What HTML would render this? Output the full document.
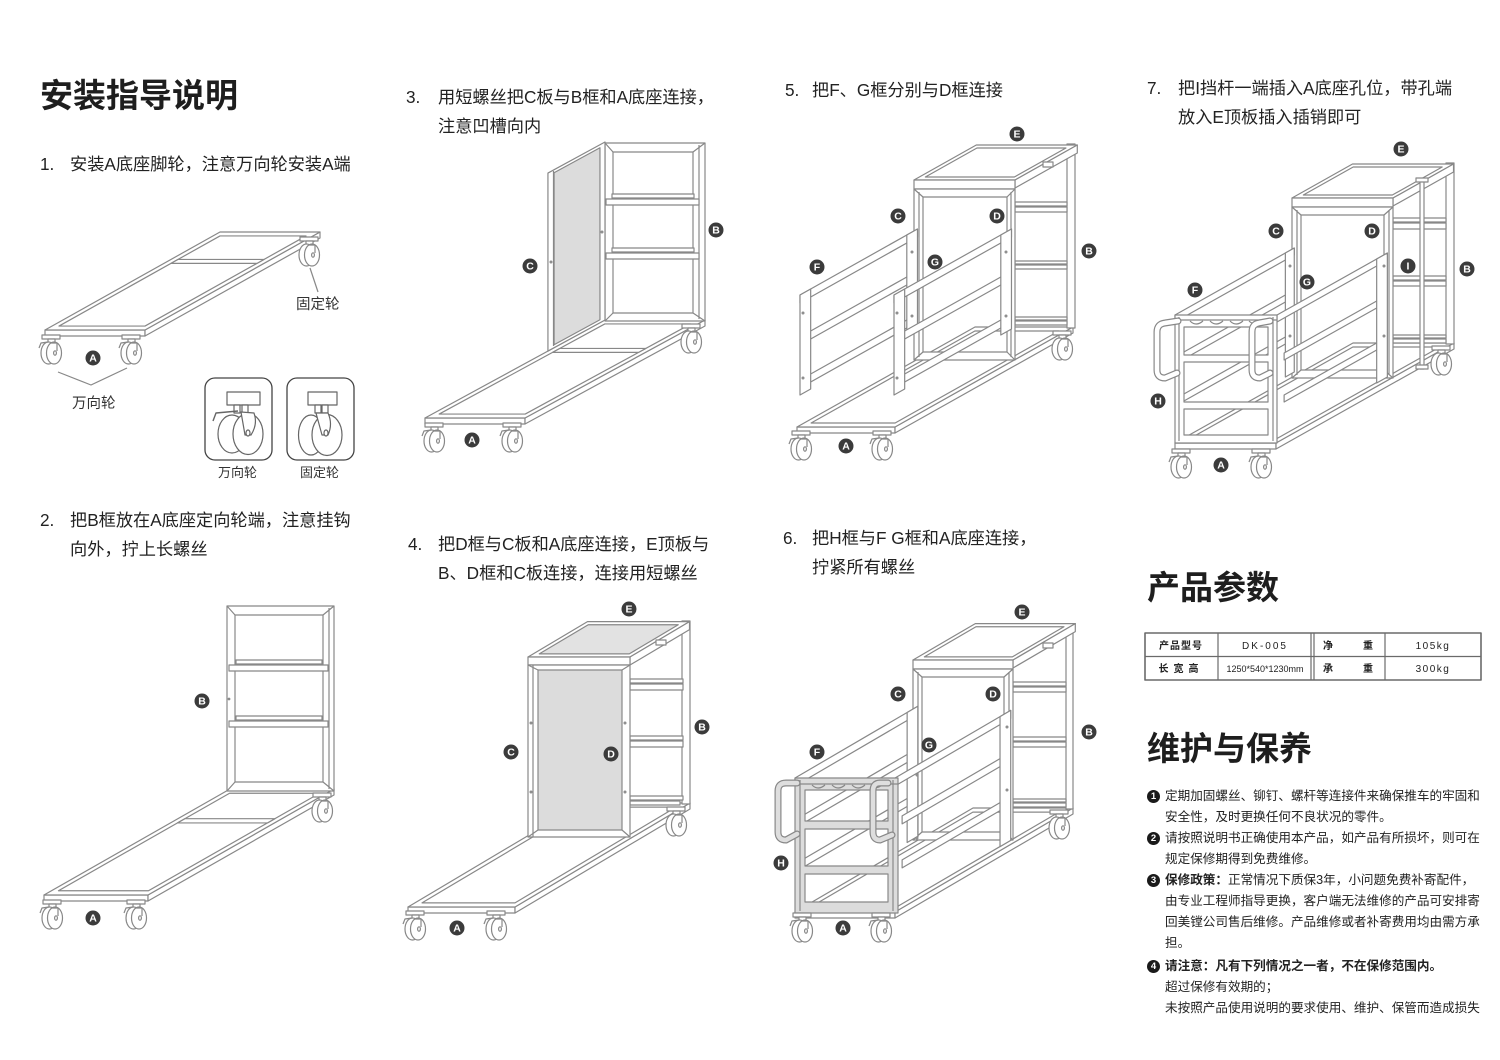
<!DOCTYPE html>
<html><head><meta charset="utf-8">
<style>
html,body{margin:0;padding:0;background:#fff;}
body{width:1500px;height:1060px;position:relative;overflow:hidden;font-family:"Liberation Sans","Noto Sans CJK SC",sans-serif;color:#222;}
.t{position:absolute;white-space:nowrap;}
.h{font-size:33px;font-weight:bold;line-height:40px;color:#1e1e1e;}
.st{font-size:17.2px;line-height:29px;color:#222;}
.m{font-size:12.6px;line-height:20px;color:#222;}
.n{position:absolute;left:1147px;width:13px;height:13px;border-radius:50%;background:#1a1a1a;color:#fff;font:bold 9.5px/13px "Liberation Sans",sans-serif;text-align:center;}
.cap{font-size:14.5px;line-height:20px;color:#333;}
.cap2{font-size:13px;line-height:18px;color:#333;}
svg *{vector-effect:non-scaling-stroke;}
.lb circle{fill:#3b3b3b;stroke:none;}
.lb text{fill:#fff;stroke:none;font:bold 10.5px "Liberation Sans",sans-serif;text-anchor:middle;}
.tb text{fill:#222;stroke:none;font-family:"Liberation Sans","Noto Sans CJK SC",sans-serif;text-anchor:middle;}
.gf{fill:#dcdcdc;}
.nf{fill:none;}
</style></head><body>

<svg width="1500" height="1060" style="position:absolute;left:0;top:0" fill="#fff" stroke="#888" stroke-width="1.2" stroke-linejoin="round">
<defs>
 <g id="wh">
  <rect x="-10" y="-18" width="18" height="4"/>
  <rect x="-4" y="-14" width="7" height="4"/>
  <ellipse cx="-3.5" cy="0" rx="7.5" ry="11"/>
  <ellipse cx="2" cy="0" rx="7.5" ry="11"/>
  <path d="M-1 -10 L5 -10 L5 -2" fill="none"/>
  <ellipse cx="3" cy="0" rx="1.4" ry="2.2"/>
 </g>
 <g id="whb"><use href="#wh"/><path d="M-13 -5 L-11 -10 L-4 -11" fill="none"/></g>
</defs>

<!-- ============ FIG 1 ============ -->
<rect x="45" y="330" width="100" height="6"/>
<g transform="matrix(1.75,-0.98,0,1,145,330)"><rect x="0" y="0" width="100" height="6"/></g>
<g transform="matrix(1,0,1.75,-0.98,45,330)">
 <path fill-rule="evenodd" d="M0 0H100V100H0Z M7 4H93V96H7Z"/>
 <rect x="7" y="68" width="86" height="4"/>
</g>
<use href="#whb" x="52" y="353"/>
<use href="#whb" x="132" y="353"/>
<use href="#wh" x="310" y="255"/>
<path class="nf" d="M310 268 L318 292"/>
<path class="nf" d="M58 372 L91 385 L127 368"/>
<g class="lb" transform="translate(93,358)"><circle r="7.5"/><text y="3.7">A</text></g>

<!-- icon boxes -->
<rect x="205" y="378" width="67" height="82" rx="10" stroke="#444" stroke-width="1.3"/>
<rect x="227" y="392" width="33" height="13" stroke="#666"/>
<rect x="234" y="405" width="6" height="8" stroke="#666"/>
<rect x="242" y="405" width="6" height="8" stroke="#666"/>
<ellipse cx="232" cy="434" rx="14" ry="19" stroke="#666"/>
<ellipse cx="248" cy="434" rx="15" ry="20.5" stroke="#666"/>
<path d="M241 412 L254 413 Q258 424 251 435 L245 435 Z" stroke="#666"/>
<ellipse cx="248" cy="433" rx="2" ry="3" stroke="#666"/>
<path class="nf" d="M213 421 L216 413 L238 411" stroke="#666" stroke-width="1.4"/>
<rect x="287" y="378" width="67" height="82" rx="10" stroke="#444" stroke-width="1.3"/>
<rect x="308" y="392" width="29" height="13" stroke="#666"/>
<rect x="315" y="405" width="6" height="8" stroke="#666"/>
<rect x="322" y="405" width="6" height="8" stroke="#666"/>
<ellipse cx="311" cy="435" rx="12.5" ry="20" stroke="#666"/>
<ellipse cx="327" cy="435" rx="15" ry="20.5" stroke="#666"/>
<path d="M316 413 L328 413 Q333 424 328 435 L322 435 Z" stroke="#666"/>
<ellipse cx="326" cy="433" rx="2" ry="3" stroke="#666"/>

<!-- ============ FIG 2 ============ -->
<rect x="44" y="895" width="104" height="6"/>
<g transform="matrix(1.86,-1.06,0,1,148,895)"><rect x="0" y="0" width="100" height="6"/></g>
<g transform="matrix(1,0,1.86,-1.06,44,895)">
 <path fill-rule="evenodd" d="M0 0H104V100H0Z M7 4H97V96H7Z"/>
 <rect x="7" y="68" width="90" height="4"/>
</g>
<rect x="227" y="606" width="107" height="185"/>
<rect x="235" y="615" width="88" height="167"/>
<line x1="329" y1="608" x2="329" y2="789"/>
<path class="nf" d="M227 606 L235 615 M334 606 L323 615 M227 791 L235 782 M334 791 L323 782"/>
<rect x="236" y="660" width="86" height="4"/><rect x="229" y="665" width="99" height="6"/>
<rect x="236" y="716" width="86" height="4"/><rect x="229" y="721" width="99" height="6"/>
<circle cx="229" cy="699" r="0.8"/>
<use href="#whb" x="53" y="918"/>
<use href="#whb" x="137" y="918"/>
<use href="#wh" x="323" y="811"/>
<g class="lb" transform="translate(202,701)"><circle r="7.5"/><text y="3.7">B</text></g>
<g class="lb" transform="translate(93,918)"><circle r="7.5"/><text y="3.7">A</text></g>

<!-- ============ FIG 3 ============ -->
<rect x="425" y="418" width="100" height="6"/>
<g transform="matrix(1.8,-0.98,0,1,525,418)"><rect x="0" y="0" width="100" height="6"/></g>
<g transform="matrix(1,0,1.8,-0.98,425,418)">
 <path fill-rule="evenodd" d="M0 0H100V100H0Z M7 4H93V96H7Z"/>
 <rect x="7" y="67" width="86" height="4"/>
</g>
<rect x="605" y="143" width="100" height="178"/>
<rect x="613" y="152" width="80" height="161"/>
<line x1="699" y1="145" x2="699" y2="319"/>
<path class="nf" d="M605 143 L613 152 M705 143 L693 152 M605 321 L613 313 M705 321 L693 313"/>
<rect x="612" y="194" width="82" height="4"/><rect x="606" y="199" width="93" height="6"/>
<rect x="612" y="248" width="82" height="4"/><rect x="606" y="253" width="93" height="6"/>
<g transform="matrix(1.8,-0.98,0,1,605,320)">
 <rect x="-31.7" y="-178" width="31.7" height="178"/>
 <rect x="-28.3" y="-175" width="25.5" height="172" class="gf"/>
</g>
<line x1="553.5" y1="171" x2="553.5" y2="346"/>
<circle cx="551" cy="262" r="0.9"/><circle cx="602" cy="232" r="0.9"/>
<use href="#whb" x="435" y="441"/>
<use href="#whb" x="513" y="441"/>
<use href="#wh" x="692" y="342"/>
<g class="lb" transform="translate(530,266)"><circle r="7.5"/><text y="3.7">C</text></g>
<g class="lb" transform="translate(716,230)"><circle r="7.5"/><text y="3.7">B</text></g>
<g class="lb" transform="translate(472,440)"><circle r="7.5"/><text y="3.7">A</text></g>

<!-- ============ FIG 4 ============ -->
<rect x="408" y="907" width="107" height="6"/>
<g transform="matrix(1.75,-1.04,0,1,515,907)"><rect x="0" y="0" width="100" height="6"/></g>
<g transform="matrix(1,0,1.75,-1.04,408,907)">
 <path fill-rule="evenodd" d="M0 0H107V100H0Z M7 4H100V96H7Z"/>
</g>
<rect x="682" y="621" width="8" height="183"/>
<rect x="630" y="679" width="53" height="4"/><rect x="630" y="684" width="53" height="6"/>
<rect x="630" y="736" width="53" height="4"/><rect x="630" y="741" width="53" height="6"/>
<rect x="630" y="796" width="53" height="4"/><rect x="630" y="801" width="50" height="4"/>
<g transform="matrix(1,0,1.75,-1.04,528,657)">
 <rect x="0" y="0" width="102" height="34"/>
 <rect x="6" y="3" width="90" height="28" fill="#e2e2e2"/>
</g>
<g transform="matrix(1.75,-1.04,0,1,630,657)"><rect x="0" y="0" width="34" height="8"/></g>
<rect x="528" y="657" width="102" height="8"/>
<rect x="528" y="665" width="102" height="172"/>
<rect x="538" y="670" width="84" height="160" class="gf"/>
<line x1="533" y1="665" x2="533" y2="837"/>
<path class="nf" d="M528 665 L538 670 M630 665 L622 670 M528 837 L538 830 M630 837 L622 830"/>
<rect x="656" y="640" width="10" height="5"/>
<circle cx="531" cy="723" r="0.9"/><circle cx="531" cy="792" r="0.9"/><circle cx="625" cy="723" r="0.9"/><circle cx="625" cy="792" r="0.9"/>
<use href="#whb" x="416" y="929"/>
<use href="#whb" x="497" y="929"/>
<use href="#wh" x="677" y="825"/>
<g class="lb" transform="translate(629,609)"><circle r="7.5"/><text y="3.7">E</text></g>
<g class="lb" transform="translate(511,752)"><circle r="7.5"/><text y="3.7">C</text></g>
<g class="lb" transform="translate(611,754)"><circle r="7.5"/><text y="3.7">D</text></g>
<g class="lb" transform="translate(702,727)"><circle r="7.5"/><text y="3.7">B</text></g>
<g class="lb" transform="translate(457,928)"><circle r="7.5"/><text y="3.7">A</text></g>

<!-- ============ FIG 5 ============ -->
<rect x="797" y="427" width="98" height="6"/>
<g transform="matrix(1.78,-1,0,1,895,427)"><rect x="0" y="0" width="100" height="6"/></g>
<g transform="matrix(1,0,1.78,-1,797,427)">
 <path fill-rule="evenodd" d="M0 0H98V100H0Z M7 4H91V96H7Z"/>
</g>
<rect x="1067" y="144" width="8" height="184"/>
<rect x="1015" y="202" width="52" height="4"/><rect x="1015" y="207" width="52" height="5"/>
<rect x="1015" y="261" width="52" height="3"/><rect x="1015" y="265" width="52" height="4"/>
<rect x="1015" y="317" width="52" height="3"/><rect x="1015" y="321" width="52" height="4"/>
<g transform="matrix(1,0,1.78,-1,914,180)">
 <rect x="0" y="0" width="101" height="35"/>
 <rect x="6" y="3" width="89" height="29"/>
</g>
<g transform="matrix(1.78,-1,0,1,1015,180)"><rect x="0" y="0" width="35" height="8"/></g>
<rect x="914" y="180" width="101" height="9"/>
<path fill-rule="evenodd" d="M914 189H1015V360H914Z M923 197H1007V352H923Z"/>
<path class="nf" d="M914 189 L923 197 M1015 189 L1007 197 M914 360 L923 352 M1015 360 L1007 352 M919 192 V357 M1011 192 V357"/>
<rect x="1043" y="162" width="10" height="5"/>
<g transform="matrix(1.78,-1,0,1,800,395)">
 <rect x="0" y="-100" width="66" height="8"/>
 <rect x="5" y="-58" width="57" height="8"/>
 <rect x="5" y="-15" width="57" height="8"/>
 <rect x="0" y="-100" width="6" height="100"/>
 <rect x="60" y="-100" width="6" height="100"/>
</g>
<g transform="matrix(1.78,-1,0,1,894,395)">
 <rect x="0" y="-100" width="66" height="8"/>
 <rect x="5" y="-58" width="57" height="8"/>
 <rect x="5" y="-15" width="57" height="8"/>
 <rect x="0" y="-100" width="6" height="100"/>
 <rect x="60" y="-100" width="6" height="100"/>
</g>
<circle cx="803" cy="313" r="0.9"/><circle cx="803" cy="378" r="0.9"/><circle cx="912" cy="252" r="0.9"/><circle cx="912" cy="316" r="0.9"/>
<circle cx="897" cy="313" r="0.9"/><circle cx="897" cy="378" r="0.9"/><circle cx="1006" cy="252" r="0.9"/><circle cx="1006" cy="316" r="0.9"/>
<use href="#whb" x="802" y="449"/>
<use href="#whb" x="883" y="449"/>
<use href="#wh" x="1063" y="349"/>
<g class="lb" transform="translate(1017,134)"><circle r="7.5"/><text y="3.7">E</text></g>
<g class="lb" transform="translate(898,216)"><circle r="7.5"/><text y="3.7">C</text></g>
<g class="lb" transform="translate(997,216)"><circle r="7.5"/><text y="3.7">D</text></g>
<g class="lb" transform="translate(817,267)"><circle r="7.5"/><text y="3.7">F</text></g>
<g class="lb" transform="translate(935,262)"><circle r="7.5"/><text y="3.7">G</text></g>
<g class="lb" transform="translate(1089,251)"><circle r="7.5"/><text y="3.7">B</text></g>
<g class="lb" transform="translate(846,446)"><circle r="7.5"/><text y="3.7">A</text></g>

<!-- ============ FIG 6 ============ -->
<rect x="795" y="912" width="100" height="6"/>
<g transform="matrix(1.78,-1.04,0,1,895,912)"><rect x="0" y="0" width="100" height="6"/></g>
<g transform="matrix(1,0,1.78,-1.04,795,912)">
 <path fill-rule="evenodd" d="M0 0H100V100H0Z M7 4H93V96H7Z"/>
</g>
<rect x="1066" y="624" width="7" height="185"/>
<rect x="1013" y="682" width="53" height="4"/><rect x="1013" y="687" width="53" height="5"/>
<rect x="1013" y="737" width="53" height="4"/><rect x="1013" y="742" width="53" height="5"/>
<rect x="1013" y="799" width="53" height="3"/><rect x="1013" y="803" width="53" height="4"/>
<g transform="matrix(1,0,1.78,-1.04,913,660)">
 <rect x="0" y="0" width="100" height="35"/>
 <rect x="6" y="3" width="88" height="29"/>
</g>
<g transform="matrix(1.78,-1.04,0,1,1013,660)"><rect x="0" y="0" width="35" height="8"/></g>
<rect x="913" y="660" width="100" height="9"/>
<path fill-rule="evenodd" d="M913 669H1013V840H913Z M922 677H1004V832H922Z"/>
<path class="nf" d="M913 669 L922 677 M1013 669 L1004 677 M913 840 L922 832 M1013 840 L1004 832 M918 672 V837 M1009 672 V837"/>
<rect x="1043" y="643" width="10" height="5"/>
<g transform="matrix(1.78,-1.04,0,1,795,912)">
 <rect x="0" y="-134" width="69" height="8"/>
 <rect x="4" y="-92" width="62" height="8"/>
 <rect x="4" y="-48" width="62" height="8"/>
 <rect x="63" y="-134" width="6" height="130"/>
</g>
<g transform="matrix(1.78,-1.04,0,1,895,912)">
 <rect x="0" y="-134" width="65" height="8"/>
 <rect x="4" y="-92" width="58" height="8"/>
 <rect x="4" y="-48" width="58" height="8"/>
 <rect x="59" y="-134" width="6" height="130"/>
</g>
<circle cx="917" cy="775" r="0.9"/><circle cx="917" cy="838" r="0.9"/><circle cx="1007" cy="727" r="0.9"/><circle cx="1007" cy="790" r="0.9"/>
<path class="gf" fill-rule="evenodd" d="M795 778H898V913H795Z M805 790H888V821H805Z M805 829H888V866H805Z M805 874H888V902H805Z"/>
<path class="nf" d="M800 780 V911 M893 780 V911 M795 784 H898 M812 785 q6 6 13 0 M832 785 q6 6 13 0 M852 785 q6 6 13 0 M871 785 q5 5 11 0"/>
<path class="nf" d="M797 783 L786 783 Q778 783 778 791 L778 832 Q778 840 786 840 L797 834" stroke="#888" stroke-width="7" stroke-linecap="round"/>
<path class="nf" d="M797 783 L786 783 Q778 783 778 791 L778 832 Q778 840 786 840 L797 834" stroke="#dedede" stroke-width="4.6" stroke-linecap="round"/>
<path class="nf" d="M888 783 L880 783 Q873 783 873 791 L873 832 Q873 840 880 840 L892 835" stroke="#888" stroke-width="7" stroke-linecap="round"/>
<path class="nf" d="M888 783 L880 783 Q873 783 873 791 L873 832 Q873 840 880 840 L892 835" stroke="#dedede" stroke-width="4.6" stroke-linecap="round"/>
<use href="#whb" x="803" y="931"/>
<use href="#whb" x="882" y="931"/>
<use href="#wh" x="1060" y="828"/>
<g class="lb" transform="translate(1022,612)"><circle r="7.5"/><text y="3.7">E</text></g>
<g class="lb" transform="translate(898,694)"><circle r="7.5"/><text y="3.7">C</text></g>
<g class="lb" transform="translate(993,694)"><circle r="7.5"/><text y="3.7">D</text></g>
<g class="lb" transform="translate(1089,732)"><circle r="7.5"/><text y="3.7">B</text></g>
<g class="lb" transform="translate(817,752)"><circle r="7.5"/><text y="3.7">F</text></g>
<g class="lb" transform="translate(929,745)"><circle r="7.5"/><text y="3.7">G</text></g>
<g class="lb" transform="translate(781,863)"><circle r="7.5"/><text y="3.7">H</text></g>
<g class="lb" transform="translate(843,928)"><circle r="7.5"/><text y="3.7">A</text></g>

<!-- ============ FIG 7 ============ -->
<rect x="1175" y="443" width="101" height="6"/>
<g transform="matrix(1.78,-1,0,1,1276,443)"><rect x="0" y="0" width="100" height="6"/></g>
<g transform="matrix(1,0,1.78,-1,1175,443)">
 <path fill-rule="evenodd" d="M0 0H101V100H0Z M7 4H94V96H7Z"/>
</g>
<rect x="1446" y="163" width="8" height="181"/>
<rect x="1393" y="218" width="53" height="4"/><rect x="1393" y="223" width="53" height="6"/>
<rect x="1393" y="276" width="53" height="4"/><rect x="1393" y="281" width="53" height="5"/>
<rect x="1393" y="335" width="53" height="3"/><rect x="1393" y="339" width="53" height="4"/>
<g transform="matrix(1,0,1.78,-1,1292,198)">
 <rect x="0" y="0" width="101" height="34"/>
 <rect x="6" y="3" width="89" height="28"/>
</g>
<g transform="matrix(1.78,-1,0,1,1393,198)"><rect x="0" y="0" width="34" height="8"/></g>
<rect x="1292" y="198" width="101" height="9"/>
<path fill-rule="evenodd" d="M1292 207H1393V378H1292Z M1301 215H1384V370H1301Z"/>
<path class="nf" d="M1292 207 L1301 215 M1393 207 L1384 215 M1292 378 L1301 370 M1393 378 L1384 370 M1297 210 V375 M1389 210 V375"/>
<rect x="1420" y="181" width="4" height="188"/>
<rect x="1416" y="178" width="12" height="4"/><rect x="1416" y="365" width="12" height="4"/>
<g transform="matrix(1.78,-1,0,1,1175,443)">
 <rect x="0" y="-128" width="67" height="7"/>
 <rect x="4" y="-86" width="60" height="7"/>
 <rect x="4" y="-44" width="60" height="7"/>
 <rect x="62" y="-128" width="5" height="124"/>
</g>
<g transform="matrix(1.78,-1,0,1,1277,443)">
 <rect x="0" y="-128" width="62" height="7"/>
 <rect x="4" y="-86" width="55" height="7"/>
 <rect x="4" y="-44" width="55" height="7"/>
 <rect x="56" y="-128" width="6" height="124"/>
</g>
<circle cx="1290" cy="266" r="0.9"/><circle cx="1290" cy="336" r="0.9"/><circle cx="1384" cy="266" r="0.9"/><circle cx="1384" cy="336" r="0.9"/>
<path fill-rule="evenodd" d="M1175 315H1277V443H1175Z M1184 327H1268V355H1184Z M1184 362H1268V402H1184Z M1184 409H1268V435H1184Z"/>
<path class="nf" d="M1179 317 V441 M1273 317 V441 M1175 320 H1277 M1190 321 q6 6 13 0 M1210 321 q6 6 13 0 M1230 321 q6 6 13 0 M1249 321 q5 5 11 0"/>
<path class="nf" d="M1178 321 L1165 323 Q1157 324 1157 332 L1157 370 Q1157 378 1165 378 L1177 373" stroke="#888" stroke-width="7" stroke-linecap="round"/>
<path class="nf" d="M1178 321 L1165 323 Q1157 324 1157 332 L1157 370 Q1157 378 1165 378 L1177 373" stroke="#fff" stroke-width="4.6" stroke-linecap="round"/>
<path class="nf" d="M1270 321 L1259 323 Q1252 324 1252 332 L1252 370 Q1252 378 1260 378 L1270 373" stroke="#888" stroke-width="7" stroke-linecap="round"/>
<path class="nf" d="M1270 321 L1259 323 Q1252 324 1252 332 L1252 370 Q1252 378 1260 378 L1270 373" stroke="#fff" stroke-width="4.6" stroke-linecap="round"/>
<use href="#whb" x="1182" y="467"/>
<use href="#whb" x="1262" y="467"/>
<use href="#wh" x="1442" y="364"/>
<g class="lb" transform="translate(1401,149)"><circle r="7.5"/><text y="3.7">E</text></g>
<g class="lb" transform="translate(1276,231)"><circle r="7.5"/><text y="3.7">C</text></g>
<g class="lb" transform="translate(1372,231)"><circle r="7.5"/><text y="3.7">D</text></g>
<g class="lb" transform="translate(1408,266)"><circle r="7.5"/><text y="3.7">I</text></g>
<g class="lb" transform="translate(1467,269)"><circle r="7.5"/><text y="3.7">B</text></g>
<g class="lb" transform="translate(1195,290)"><circle r="7.5"/><text y="3.7">F</text></g>
<g class="lb" transform="translate(1307,282)"><circle r="7.5"/><text y="3.7">G</text></g>
<g class="lb" transform="translate(1158,401)"><circle r="7.5"/><text y="3.7">H</text></g>
<g class="lb" transform="translate(1221,465)"><circle r="7.5"/><text y="3.7">A</text></g>

<!-- ============ TABLE ============ -->
<g class="tb">
 <rect x="1145" y="633" width="336" height="47" fill="#fff" stroke="#6a6a6a" stroke-width="1.6"/>
 <line x1="1145" y1="656.5" x2="1481" y2="656.5" stroke="#6a6a6a" stroke-width="1.2"/>
 <line x1="1218" y1="633" x2="1218" y2="680" stroke="#6a6a6a" stroke-width="1.2"/>
 <line x1="1311" y1="633" x2="1311" y2="680" stroke="#6a6a6a" stroke-width="1.2"/>
 <line x1="1314" y1="633" x2="1314" y2="680" stroke="#6a6a6a" stroke-width="1.2"/>
 <line x1="1385" y1="633" x2="1385" y2="680" stroke="#6a6a6a" stroke-width="1.2"/>
 <text x="1181" y="649" font-size="10" font-weight="bold" letter-spacing="1">产品型号</text>
 <text x="1265" y="649" font-size="10" letter-spacing="2">DK-005</text>
 <text x="1328" y="649" font-size="10" font-weight="bold">净</text>
 <text x="1368" y="649" font-size="10" font-weight="bold">重</text>
 <text x="1433" y="649" font-size="10" letter-spacing="1.5">105kg</text>
 <text x="1181" y="672" font-size="10" font-weight="bold" letter-spacing="5">长宽高</text>
 <text x="1265" y="672" font-size="9">1250*540*1230mm</text>
 <text x="1328" y="672" font-size="10" font-weight="bold">承</text>
 <text x="1368" y="672" font-size="10" font-weight="bold">重</text>
 <text x="1433" y="672" font-size="10" letter-spacing="1.5">300kg</text>
</g>
</svg>

<!-- ============ TEXT ============ -->
<div class="t h" style="left:40px;top:76px;">安装指导说明</div>

<div class="t st" style="left:40px;top:149.5px;">1.</div>
<div class="t st" style="left:70px;top:149.5px;">安装A底座脚轮，注意万向轮安装A端</div>

<div class="t st" style="left:406px;top:82.5px;">3.</div>
<div class="t st" style="left:438px;top:82.5px;">用短螺丝把C板与B框和A底座连接，<br>注意凹槽向内</div>

<div class="t st" style="left:785px;top:75.5px;">5.</div>
<div class="t st" style="left:812px;top:75.5px;">把F、G框分别与D框连接</div>

<div class="t st" style="left:1147px;top:73.5px;">7.</div>
<div class="t st" style="left:1178px;top:73.5px;">把I挡杆一端插入A底座孔位，带孔端<br>放入E顶板插入插销即可</div>

<div class="t st" style="left:40px;top:505.5px;">2.</div>
<div class="t st" style="left:70px;top:505.5px;">把B框放在A底座定向轮端，注意挂钩<br>向外，拧上长螺丝</div>

<div class="t st" style="left:408px;top:529.5px;">4.</div>
<div class="t st" style="left:438px;top:529.5px;">把D框与C板和A底座连接，E顶板与<br>B、D框和C板连接，连接用短螺丝</div>

<div class="t st" style="left:783px;top:523.5px;">6.</div>
<div class="t st" style="left:812px;top:523.5px;">把H框与F G框和A底座连接，<br>拧紧所有螺丝</div>

<div class="t cap" style="left:296px;top:295px;">固定轮</div>
<div class="t cap" style="left:72px;top:394px;">万向轮</div>
<div class="t cap2" style="left:218px;top:464px;">万向轮</div>
<div class="t cap2" style="left:300px;top:464px;">固定轮</div>

<div class="t h" style="left:1147px;top:568px;">产品参数</div>
<div class="t h" style="left:1147px;top:729px;">维护与保养</div>

<div class="n" style="top:789.5px;">1</div>
<div class="t m" style="left:1165px;top:786px;">定期加固螺丝、铆钉、螺杆等连接件来确保推车的牢固和</div>
<div class="t m" style="left:1165px;top:807px;">安全性，及时更换任何不良状况的零件。</div>
<div class="n" style="top:831.5px;">2</div>
<div class="t m" style="left:1165px;top:828px;">请按照说明书正确使用本产品，如产品有所损坏，则可在</div>
<div class="t m" style="left:1165px;top:849px;">规定保修期得到免费维修。</div>
<div class="n" style="top:873.5px;">3</div>
<div class="t m" style="left:1165px;top:870px;"><b>保修政策：</b>正常情况下质保3年，小问题免费补寄配件，</div>
<div class="t m" style="left:1165px;top:891px;">由专业工程师指导更换，客户端无法维修的产品可安排寄</div>
<div class="t m" style="left:1165px;top:912px;">回美镗公司售后维修。产品维修或者补寄费用均由需方承</div>
<div class="t m" style="left:1165px;top:933px;">担。</div>
<div class="n" style="top:959.5px;">4</div>
<div class="t m" style="left:1165px;top:956px;"><b>请注意：凡有下列情况之一者，不在保修范围内。</b></div>
<div class="t m" style="left:1165px;top:977px;">超过保修有效期的；</div>
<div class="t m" style="left:1165px;top:998px;">未按照产品使用说明的要求使用、维护、保管而造成损失</div>

</body></html>
